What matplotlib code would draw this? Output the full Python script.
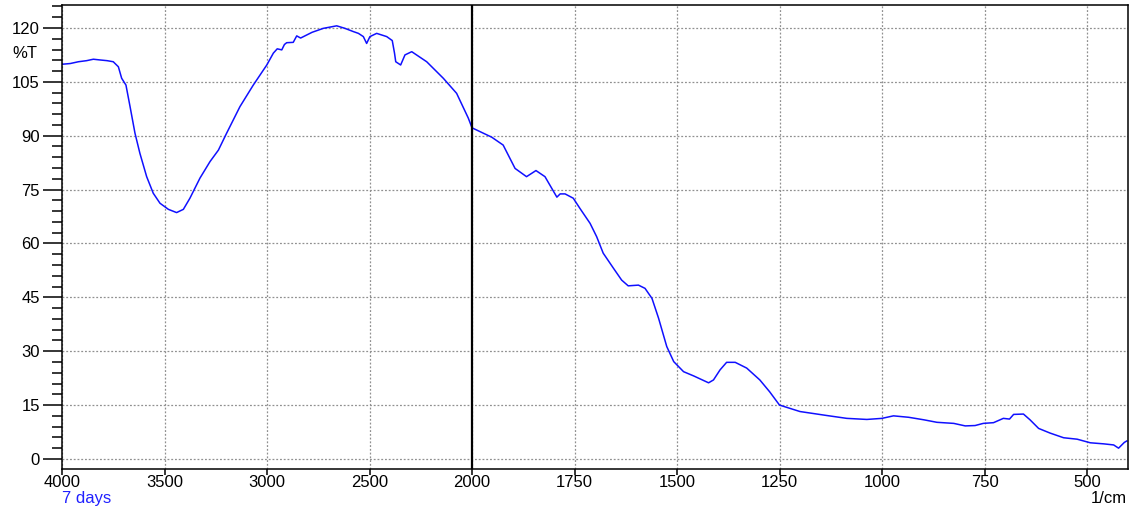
import numpy as np
import matplotlib
matplotlib.use("Agg")
import matplotlib.pyplot as plt
from matplotlib.ticker import MultipleLocator, FixedLocator

plt.rcParams['font.family'] = ['Liberation Sans', 'DejaVu Sans']

# wavenumber (1/cm) and transmittance (%T)
wavenumber = [4000, 3960, 3920, 3880, 3847, 3815, 3780, 3750, 3725, 3709, 3688,
              3668, 3644, 3620, 3587, 3555, 3522, 3481, 3441, 3408, 3376, 3327,
              3278, 3237, 3197, 3132, 3067, 3001, 2969, 2950, 2928, 2915, 2904,
              2872, 2855, 2836, 2780, 2725, 2660, 2620, 2579, 2554, 2530, 2514,
              2498, 2465, 2416, 2389, 2378, 2372, 2348, 2327, 2294, 2221, 2140,
              2075, 2018, 2000, 1952, 1924, 1895, 1867, 1844, 1822, 1793, 1785,
              1773, 1753, 1737, 1712, 1696, 1680, 1655, 1635, 1619, 1594, 1578,
              1561, 1545, 1525, 1508, 1484, 1459, 1423, 1411, 1395, 1379, 1358,
              1330, 1298, 1274, 1250, 1200, 1135, 1086, 1037, 1000, 972, 935, 898,
              866, 825, 797, 773, 753, 728, 704, 689, 679, 655, 639, 618, 590,
              557, 524, 492, 459, 435, 423, 409, 403]
transmittance = [109.9, 110.1, 110.6, 110.9, 111.3, 111.1, 110.9, 110.6, 109.2,
                 106.0, 104.1, 98.1, 90.7, 85.1, 78.6, 74.0, 71.2, 69.5, 68.6,
                 69.5, 72.6, 78.2, 82.8, 86.0, 90.7, 98.1, 104.1, 109.7, 113.0,
                 114.2, 113.9, 115.4, 115.9, 116.0, 117.8, 117.2, 118.8, 119.9,
                 120.6, 119.9, 119.0, 118.5, 117.6, 115.7, 117.6, 118.5, 117.6,
                 116.5, 113.0, 110.6, 109.7, 112.5, 113.4, 110.6, 106.0, 101.8,
                 94.9, 92.2, 89.6, 87.4, 80.9, 78.6, 80.3, 78.6, 72.9, 73.8, 73.8,
                 72.6, 69.8, 65.6, 61.9, 57.3, 53.1, 49.8, 48.2, 48.4, 47.5, 44.7,
                 39.2, 31.3, 27.1, 24.3, 23.1, 21.2, 22.0, 24.8, 26.9, 26.9, 25.3,
                 22.0, 18.7, 15.0, 13.2, 12.1, 11.3, 11.0, 11.3, 12.0, 11.6, 10.9,
                 10.2, 9.9, 9.2, 9.3, 9.9, 10.1, 11.3, 11.1, 12.4, 12.5, 10.9, 8.5,
                 7.2, 5.9, 5.5, 4.5, 4.2, 3.9, 3.0, 4.6, 5.0]

x_major = [4000, 3500, 3000, 2500, 2000, 1750, 1500, 1250, 1000, 750, 500]
x_minor = list(range(3900, 2000, 100)) + list(range(1950, 400, 50))


# above 2000 the axis is compressed by a factor of two
def forward(w):
    w = np.asarray(w, dtype=float)
    return np.where(w >= 2000, w - 2000, 2 * (w - 2000))


def inverse(p):
    p = np.asarray(p, dtype=float)
    return np.where(p >= 0, p + 2000, p / 2 + 2000)


fig = plt.figure(figsize=(11.32, 5.08), dpi=100)
ax = fig.add_axes([62 / 1132, 39 / 508, 1066 / 1132, 464 / 508])
ax.set_xscale('function', functions=(forward, inverse))
ax.plot(wavenumber, transmittance, color='#1010ff', lw=1.1)
ax.set_xlim(4000, 400)
ax.set_ylim(-2.8, 126.4)

ax.xaxis.set_major_locator(FixedLocator(x_major))
ax.xaxis.set_minor_locator(FixedLocator(x_minor))
ax.set_xticklabels([str(v) for v in x_major])
ax.yaxis.set_major_locator(MultipleLocator(15))
ax.yaxis.set_minor_locator(MultipleLocator(3))

ax.grid(True, which='major', color='#909090', ls=(0, (1.5, 1.5)), lw=0.9)
ax.axvline(2000, color='black', lw=1.6)

ax.tick_params(axis='y', which='major', length=14, width=1.1, labelsize=12, pad=2)
ax.tick_params(axis='y', which='minor', length=7, width=1.1)
ax.tick_params(axis='x', which='major', length=4.5, width=1.1, labelsize=12, pad=0)
ax.tick_params(axis='x', which='minor', length=2.5, width=1.1)
for s in ax.spines.values():
    s.set_linewidth(1.1)

fig.text(12 / 1132, 1 - 53 / 508, '%T', fontsize=12, va='center')
fig.text(62 / 1132, 1 - 491 / 508, '7 days', fontsize=12, color='#2020ff', va='top')
fig.text(1127 / 1132, 1 - 491 / 508, '1/cm', fontsize=12, ha='right', va='top')

fig.savefig('out.png', dpi=100)
